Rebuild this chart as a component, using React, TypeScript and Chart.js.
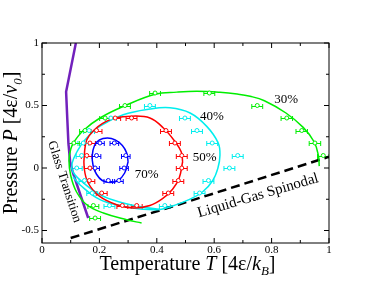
import React, { useEffect, useRef } from "react";
import { Chart, registerables } from "chart.js";

Chart.register(...registerables);

const SERIF = '"Liberation Serif", "DejaVu Serif", serif';

// axis ticks
const xTicks = [0, 0.2, 0.4, 0.6, 0.8, 1];
const yTicks = [-0.5, 0, 0.5, 1];
const xMinor = [0.1, 0.3, 0.5, 0.7, 0.9];
const yMinor = [-0.25, 0.25, 0.75];

// fitted curves [T, P]
const fit30: [number, number][] = [
  [0.347, -0.44], [0.295, -0.414], [0.214, -0.36], [0.156, -0.294], [0.12, -0.19],
  [0.1, -0.06], [0.094, 0.06], [0.1, 0.15], [0.112, 0.21], [0.144, 0.3], [0.202, 0.4],
  [0.289, 0.498], [0.394, 0.59], [0.47, 0.607], [0.54, 0.614], [0.62, 0.606],
  [0.68, 0.592], [0.725, 0.574], [0.775, 0.538], [0.85, 0.44], [0.91, 0.325],
  [0.948, 0.21], [0.963, 0.1], [0.966, 0.015],
];
const fit40: [number, number][] = [
  [0.108, -0.07], [0.132, -0.134], [0.202, -0.253], [0.282, -0.305], [0.35, -0.33],
  [0.411, -0.332], [0.46, -0.3], [0.51, -0.255], [0.56, -0.19], [0.595, -0.1],
  [0.613, 0.0], [0.62, 0.1], [0.614, 0.2], [0.574, 0.333], [0.516, 0.44],
  [0.446, 0.482], [0.376, 0.472], [0.283, 0.426], [0.202, 0.335], [0.15, 0.226],
  [0.122, 0.13], [0.105, 0.04], [0.107, -0.027], [0.132, -0.094], [0.202, -0.213],
  [0.283, -0.28], [0.35, -0.312], [0.411, -0.33],
];
const fit50: [number, number][] = [
  [0.49, 0.05], [0.485, 0.13], [0.463, 0.213], [0.423, 0.32], [0.376, 0.4],
  [0.313, 0.415], [0.254, 0.4], [0.21, 0.355], [0.18, 0.3], [0.156, 0.226],
  [0.148, 0.12], [0.147, 0.0], [0.161, -0.12], [0.2, -0.225], [0.26, -0.294],
  [0.318, -0.32], [0.376, -0.3], [0.42, -0.245], [0.455, -0.17], [0.478, -0.08],
  [0.49, 0.05],
];
const fit70: [number, number][] = [
  [0.3, 0.05], [0.295, 0.12], [0.28, 0.18], [0.255, 0.225], [0.228, 0.24],
  [0.2, 0.225], [0.183, 0.18], [0.175, 0.1], [0.178, 0.02], [0.19, -0.05],
  [0.21, -0.1], [0.237, -0.115], [0.265, -0.1], [0.288, -0.04], [0.3, 0.05],
];
const glassLine: [number, number][] = [
  [0.118, 1.0], [0.084, 0.61], [0.088, 0.4], [0.092, 0.2], [0.098, 0.05],
  [0.108, -0.04], [0.161, -0.4],
];
const spinodal: [number, number][] = [[0.1, -0.56], [0.48, -0.29], [1.0, 0.09]];

// simulation points with horizontal error bars
const pts30T = [0.111, 0.15, 0.22, 0.289, 0.394, 0.583, 0.75, 0.853, 0.905, 0.951, 0.98, 0.179, 0.185];
const pts30P = [0.2, 0.3, 0.4, 0.5, 0.6, 0.6, 0.5, 0.4, 0.3, 0.2, 0.1, -0.3, -0.4];
const err30 = [0.019, 0.019, 0.019, 0.019, 0.019, 0.019, 0.019, 0.02, 0.02, 0.02, 0.02, 0.019, 0.019];

const pts40T = [0.376, 0.498, 0.24, 0.164, 0.144, 0.138, 0.121, 0.148, 0.175, 0.235, 0.428, 0.549, 0.58, 0.653, 0.682, 0.593, 0.54];
const pts40P = [0.5, 0.4, 0.4, 0.3, 0.2, 0.1, 0.0, -0.1, -0.2, -0.3, -0.3, -0.2, -0.1, 0.0, 0.1, 0.2, 0.3];
const err40 = [0.019, 0.019, 0.019, 0.019, 0.019, 0.019, 0.019, 0.019, 0.019, 0.019, 0.019, 0.019, 0.019, 0.019, 0.019, 0.019, 0.019];

const pts50T = [0.255, 0.312, 0.19, 0.167, 0.156, 0.167, 0.165, 0.208, 0.28, 0.33, 0.44, 0.475, 0.487, 0.487, 0.463, 0.432];
const pts50P = [0.4, 0.4, 0.3, 0.2, 0.1, 0.0, -0.1, -0.2, -0.3, -0.3, -0.2, -0.1, 0.0, 0.1, 0.2, 0.3];
const err50 = [0.019, 0.019, 0.019, 0.019, 0.019, 0.019, 0.019, 0.019, 0.019, 0.019, 0.019, 0.019, 0.019, 0.019, 0.019, 0.019];

const pts70T = [0.202, 0.252, 0.19, 0.292, 0.185, 0.286, 0.231, 0.268];
const pts70P = [0.2, 0.2, 0.1, 0.1, 0.0, 0.0, -0.1, -0.1];
const err70 = [0.015, 0.015, 0.015, 0.015, 0.015, 0.015, 0.015, 0.015];

// text annotations anchored in data coordinates
const percentLabels = [
  { text: "30%", T: 0.851, P: 0.52 },
  { text: "40%", T: 0.592, P: 0.381 },
  { text: "50%", T: 0.567, P: 0.053 },
  { text: "70%", T: 0.365, P: -0.08 },
];
const rotLabels = [
  { text: "Glass Transition", T: 0.078, P: -0.11, angle: 72, size: 13 },
  { text: "Liquid-Gas Spinodal", T: 0.753, P: -0.222, angle: -16.5, size: 15 },
];

const GREEN = "#00ee00";
const CYAN = "#00eeee";
const RED = "#ff0000";
const BLUE = "#0000ff";
const PURPLE = "rgb(114,33,188)";

type Seg = { t: string; it?: boolean; sub?: boolean };
const xTitle: Seg[] = [
  { t: "Temperature " }, { t: "T", it: true }, { t: " [4ε/" }, { t: "k", it: true },
  { t: "B", it: true, sub: true }, { t: "]" },
];
const yTitle: Seg[] = [
  { t: "Pressure " }, { t: "P", it: true }, { t: " [4ε/" }, { t: "v", it: true },
  { t: "0", it: true, sub: true }, { t: "]" },
];

function drawRich(ctx: CanvasRenderingContext2D, segs: Seg[], cx: number, by: number) {
  const fontOf = (s: Seg) => `${s.it ? "italic " : ""}${s.sub ? 13 : 20}px ${SERIF}`;
  let total = 0;
  const widths = segs.map((s) => {
    ctx.font = fontOf(s);
    const w = ctx.measureText(s.t).width;
    total += w;
    return w;
  });
  let x = cx - total / 2;
  ctx.textAlign = "left";
  ctx.textBaseline = "alphabetic";
  segs.forEach((s, i) => {
    ctx.font = fontOf(s);
    ctx.fillText(s.t, x, by + (s.sub ? 5 : 0));
    x += widths[i];
  });
}

const toXY = (arr: [number, number][]) => arr.map(([x, y]) => ({ x, y }));
const toPts = (xs: number[], ys: number[]) => xs.map((x, i) => ({ x, y: ys[i] }));

const overlay = {
  id: "overlay",
  beforeDatasetsDraw(chart: any) {
    const { ctx, chartArea: a } = chart;
    const xs = chart.scales.x;
    const ys = chart.scales.y;
    ctx.save();
    ctx.beginPath();
    ctx.rect(a.left, a.top, a.right - a.left, a.bottom - a.top);
    ctx.clip();
    chart.data.datasets.forEach((ds: any) => {
      if (!ds.xErr) return;
      ctx.strokeStyle = ds.borderColor;
      ctx.lineWidth = 1;
      ds.data.forEach((p: any, i: number) => {
        const e = ds.xErr[i];
        const x0 = xs.getPixelForValue(p.x - e);
        const x1 = xs.getPixelForValue(p.x + e);
        const py = Math.round(ys.getPixelForValue(p.y)) + 0.5;
        ctx.beginPath();
        ctx.moveTo(x0, py);
        ctx.lineTo(x1, py);
        ctx.moveTo(x0, py - 2.5);
        ctx.lineTo(x0, py + 2.5);
        ctx.moveTo(x1, py - 2.5);
        ctx.lineTo(x1, py + 2.5);
        ctx.stroke();
      });
    });
    ctx.restore();
  },
  afterDraw(chart: any) {
    const { ctx, chartArea: a } = chart;
    const xs = chart.scales.x;
    const ys = chart.scales.y;
    ctx.save();
    // frame
    ctx.strokeStyle = "#000";
    ctx.lineWidth = 1;
    ctx.strokeRect(a.left, a.top, a.right - a.left, a.bottom - a.top);
    // inward ticks on all sides
    ctx.beginPath();
    const tickX = (v: number, len: number) => {
      const px = xs.getPixelForValue(v);
      ctx.moveTo(px, a.bottom);
      ctx.lineTo(px, a.bottom - len);
      ctx.moveTo(px, a.top);
      ctx.lineTo(px, a.top + len);
    };
    const tickY = (v: number, len: number) => {
      const py = ys.getPixelForValue(v);
      ctx.moveTo(a.left, py);
      ctx.lineTo(a.left + len, py);
      ctx.moveTo(a.right, py);
      ctx.lineTo(a.right - len, py);
    };
    xTicks.forEach((v) => tickX(v, 5));
    xMinor.forEach((v) => tickX(v, 3));
    yTicks.forEach((v) => tickY(v, 5));
    yMinor.forEach((v) => tickY(v, 3));
    ctx.stroke();

    // percent labels
    ctx.fillStyle = "#000";
    ctx.textAlign = "center";
    ctx.textBaseline = "alphabetic";
    ctx.font = `13px ${SERIF}`;
    percentLabels.forEach((l) => {
      ctx.fillText(l.text, xs.getPixelForValue(l.T), ys.getPixelForValue(l.P));
    });
    // rotated labels
    rotLabels.forEach((l) => {
      ctx.save();
      ctx.translate(xs.getPixelForValue(l.T), ys.getPixelForValue(l.P));
      ctx.rotate((l.angle * Math.PI) / 180);
      ctx.font = `${l.size}px ${SERIF}`;
      ctx.textAlign = "center";
      ctx.textBaseline = "middle";
      ctx.fillText(l.text, 0, 0);
      ctx.restore();
    });

    // axis titles
    drawRich(ctx, xTitle, (a.left + a.right) / 2 + 2, 270);
    ctx.save();
    ctx.translate(17, (a.top + a.bottom) / 2);
    ctx.rotate(-Math.PI / 2);
    drawRich(ctx, yTitle, 0, 0);
    ctx.restore();
    ctx.restore();
  },
};

export default function App() {
  const ref = useRef<HTMLCanvasElement | null>(null);
  useEffect(() => {
    if (!ref.current) return;
    const curve = (data: [number, number][], color: string, width = 1.5, dash: number[] = [], tension = 0.4) => ({
      data: toXY(data),
      showLine: true,
      borderColor: color,
      backgroundColor: color,
      borderWidth: width,
      borderDash: dash,
      pointRadius: 0,
      tension,
      fill: false,
    });
    const pts = (xs: number[], ys: number[], err: number[], color: string) => ({
      data: toPts(xs, ys),
      showLine: false,
      borderColor: color,
      backgroundColor: "#fff",
      pointRadius: 2,
      pointBorderWidth: 1,
      xErr: err,
    });
    const chart = new Chart(ref.current, {
      type: "scatter",
      data: {
        datasets: [
          pts(pts70T, pts70P, err70, BLUE),
          pts(pts50T, pts50P, err50, RED),
          pts(pts40T, pts40P, err40, CYAN),
          pts(pts30T, pts30P, err30, GREEN),
          curve(fit70, BLUE),
          curve(fit50, RED),
          curve(fit40, CYAN),
          curve(fit30, GREEN),
          curve(glassLine, PURPLE, 2.5, [], 0),
          curve(spinodal, "#000", 2.5, [9, 5], 0),
        ] as any,
      },
      options: {
        responsive: false,
        animation: false,
        events: [],
        layout: { padding: { top: 43, right: 42, left: 0, bottom: 0 } },
        plugins: { legend: { display: false }, tooltip: { enabled: false } },
        scales: {
          x: {
            type: "linear",
            min: 0,
            max: 1,
            grid: { display: false, drawTicks: false },
            border: { display: false },
            afterBuildTicks: (s: any) => {
              s.ticks = xTicks.map((v) => ({ value: v }));
            },
            afterFit: (s: any) => {
              s.height = 44;
            },
            ticks: {
              padding: 1,
              color: "#000",
              font: { family: SERIF, size: 11 },
              callback: (v: any) => String(v),
            },
          },
          y: {
            type: "linear",
            min: -0.6,
            max: 1,
            grid: { display: false, drawTicks: false },
            border: { display: false },
            afterBuildTicks: (s: any) => {
              s.ticks = yTicks.map((v) => ({ value: v }));
            },
            afterFit: (s: any) => {
              s.width = 42;
            },
            ticks: {
              padding: 3,
              color: "#000",
              font: { family: SERIF, size: 11 },
              callback: (v: any) => String(v),
            },
          },
        },
      },
      plugins: [overlay],
    });
    return () => chart.destroy();
  }, []);
  return (
    <div style={{ position: "absolute", left: 0, top: 0, width: 371, height: 287, background: "#fff" }}>
      <canvas ref={ref} width={371} height={287} style={{ display: "block" }} />
    </div>
  );
}
